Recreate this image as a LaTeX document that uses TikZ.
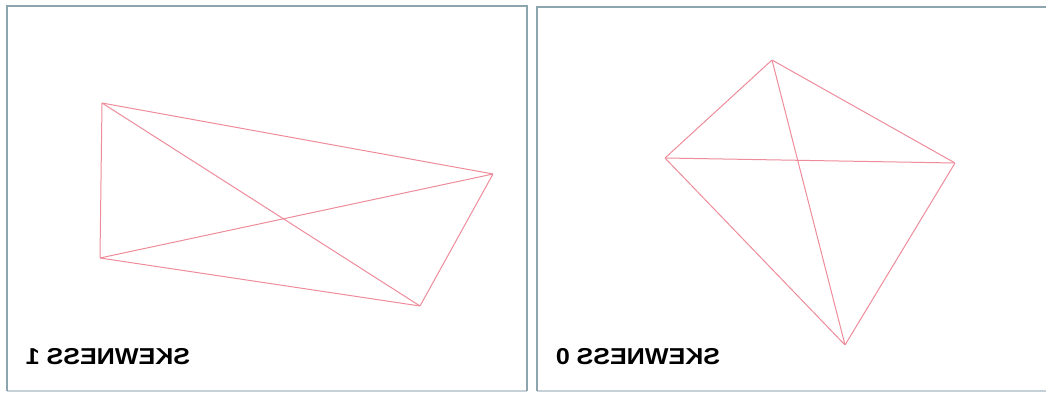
\documentclass[tikz,border=0pt]{standalone}
\usepackage{graphicx}
\usepackage{fontspec}
\setmainfont{Liberation Sans}
\begin{document}
\begin{tikzpicture}[x=1pt,y=1pt,
  frame/.style={draw={rgb,255:red,140;green,165;blue,175},line width=1.2pt},
  edge/.style={draw={rgb,255:red,238;green,140;blue,155},line width=1pt},
  pt/.style={inner sep=0pt,minimum size=0pt},
  lbl/.style={inner sep=0pt,font=\fontsize{23}{23}\selectfont\bfseries}]
\useasboundingbox (0,0) rectangle (1046,392);
\fill[white] (0,0) rectangle (1046,392);
% frames
\draw[frame] (7,1) -- (7,386) -- (527,386) -- (527,1);
\draw[frame] (537,1) -- (537,385) -- (1046,385);
\draw[frame,draw opacity=0.5] (7,1) -- (527,1);
\draw[frame,draw opacity=0.5] (537,1) -- (1046,1);
% left panel
\node[pt] (a) at (102,289) {};
\node[pt] (b) at (493,218) {};
\node[pt] (c) at (420,86) {};
\node[pt] (d) at (100,134) {};
\draw[edge] (a) -- (b) -- (c) -- (d) -- (a);
\draw[edge] (a) -- (c);
\draw[edge] (d) -- (b);
% right panel
\node[pt] (t) at (772,332) {};
\node[pt] (l) at (665,234) {};
\node[pt] (r) at (955,229) {};
\node[pt] (u) at (845,47) {};
\draw[edge] (t) -- (r) -- (u) -- (l) -- (t);
\draw[edge] (l) -- (r);
\draw[edge] (t) -- (u);
% labels
\node[lbl] (s1) at (108,35) {\reflectbox{\scalebox{1.09}[1]{SKEWNESS 1}}};
\node[lbl] (s0) at (638,35) {\reflectbox{\scalebox{1.09}[1]{SKEWNESS 0}}};
\end{tikzpicture}
\end{document}
